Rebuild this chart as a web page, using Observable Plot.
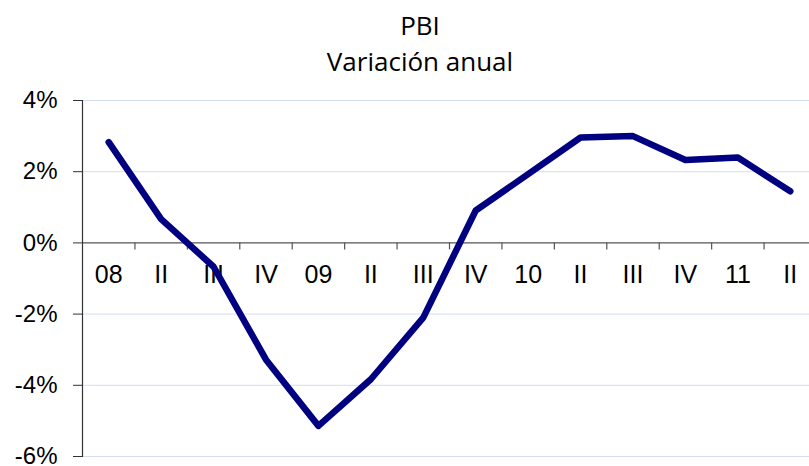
<!DOCTYPE html>
<html>
<head>
<meta charset="utf-8">
<script src="https://cdn.jsdelivr.net/npm/d3@7"></script>
<script src="https://cdn.jsdelivr.net/npm/@observablehq/plot@0.6"></script>
<style>
  html, body { margin: 0; padding: 0; background: #fff; overflow: hidden; }
  #title { width: 809px; height: 85px; box-sizing: border-box; padding-top: 8px; padding-left: 31px;
           text-align: center; font-family: "Open Sans", sans-serif; font-size: 26px; line-height: 35.6px; color: #000; }
  #chart svg { display: block; font-family: "Liberation Sans", Arial, sans-serif !important; }
  #chart svg text { font-family: "Liberation Sans", Arial, sans-serif !important; }
</style>
</head>
<body>
<div id="title"><div>PBI</div><div>Variación anual</div></div>
<div id="chart"></div>
<script>
const categories = ["08","II","III","IV","09","II","III","IV","10","II","III","IV","11","II"];
const values = [2.83, 0.67, -0.67, -3.28, -5.14, -3.83, -2.10, 0.91, 1.93, 2.96, 3.00, 2.33, 2.40, 1.45];
const yTicks = [-6, -4, -2, 0, 2, 4];

const data = categories.map((c, i) => ({i, c, v: values[i]}));
const boundaries = categories.slice(1).map((_, i) => i + 0.5);

const chart = Plot.plot({
  width: 809,
  height: 381,
  marginTop: 15,
  marginBottom: 10,
  marginLeft: 82,
  marginRight: -7,
  x: {type: "linear", domain: [-0.5, categories.length - 0.5], axis: null},
  y: {domain: [-6, 4], axis: null},
  style: {background: "white", color: "#000"},
  marks: [
    Plot.gridY(yTicks.filter(d => d !== 0), {stroke: "#d3ddf2", strokeOpacity: 1, strokeWidth: 1}),
    Plot.ruleY([0], {stroke: "#555", strokeWidth: 1.2}),
    Plot.ruleX(boundaries, {x: d => d, y1: 0, y2: 0, insetBottom: -7, stroke: "#555", strokeWidth: 1.2}),
    Plot.text(data, {x: "i", y: 0, text: "c", dy: 32, fontSize: 25, fill: "#000"}),
    Plot.axisY(yTicks, {label: null, tickSize: 9, tickPadding: 16, fontSize: 24, tickFormat: d => d + "%", stroke: "#333", fill: "#000"}),
    Plot.frame({anchor: "left", stroke: "#333", strokeWidth: 1.2}),
    Plot.line(data, {x: "i", y: "v", stroke: "#000080", strokeWidth: 6.5, strokeLinecap: "round", strokeLinejoin: "round"})
  ]
});
document.getElementById("chart").appendChild(chart);
</script>
</body>
</html>
